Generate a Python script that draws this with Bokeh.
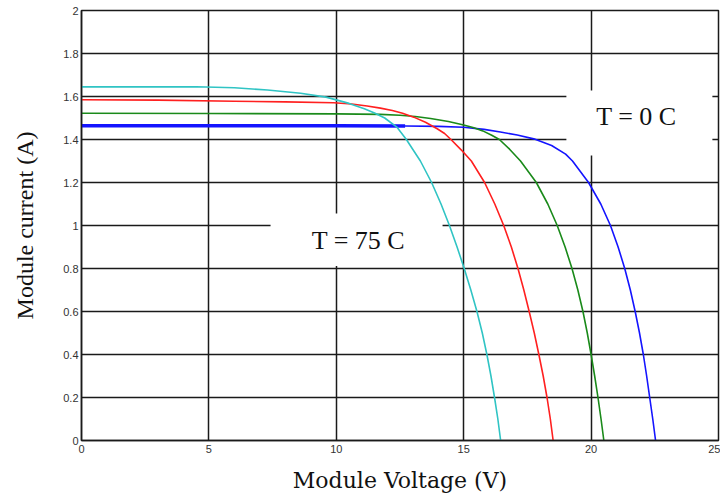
from bokeh.plotting import figure
from bokeh.models import Label, Range1d, FixedTicker
from bokeh.embed import file_html
from bokeh.resources import INLINE

# ---- data ----
x_ticks = [0, 5, 10, 15, 20, 25]
x_tick_labels = ["0", "5", "10", "15", "20", "25"]
y_ticks = [0, 0.2, 0.4, 0.6, 0.8, 1, 1.2, 1.4, 1.6, 1.8, 2]
y_tick_labels = ["0", "0.2", "0.4", "0.6", "0.8", "1", "1.2", "1.4", "1.6", "1.8", "2"]

# T = 75 C (cyan)
v_75 = [0, 2, 4.5, 6, 7.3, 8.6, 9.6, 10.5, 11.1, 11.5, 11.9, 12.39, 12.75, 13.3, 13.74, 14.11, 14.44,
        14.74, 15.02, 15.28, 15.52, 15.73, 15.91, 16.07, 16.21, 16.34, 16.45]
i_75 = [1.645, 1.645, 1.645, 1.641, 1.630, 1.615, 1.597, 1.568, 1.543, 1.523, 1.5, 1.456, 1.4, 1.3, 1.2, 1.1, 1.0,
        0.9, 0.8, 0.7, 0.6, 0.5, 0.4, 0.3, 0.2, 0.1, 0]
# T = 50 C (red)
v_50 = [0, 3, 6, 8, 9.9, 10.6, 11.21, 11.73, 12.2, 12.6, 13.04, 13.5, 13.96, 14.25, 14.5, 14.9, 15.3, 15.56,
        15.82, 16.22, 16.57, 16.87, 17.13, 17.36, 17.57, 17.77, 17.95, 18.12, 18.27, 18.4, 18.51]
i_50 = [1.585, 1.583, 1.578, 1.575, 1.571, 1.565, 1.556, 1.546, 1.535, 1.522, 1.504, 1.48, 1.45, 1.428, 1.40, 1.352, 1.30, 1.25,
        1.2, 1.1, 1.0, 0.9, 0.8, 0.7, 0.6, 0.5, 0.4, 0.3, 0.2, 0.1, 0]
# T = 25 C (green)
v_25 = [0, 5, 10, 11.73, 12.5, 13.1, 13.7, 14.4, 15.0, 15.4, 15.75, 16.1, 16.4, 16.8, 17.23, 17.85, 18.3, 18.67,
        18.98, 19.25, 19.48, 19.68, 19.85, 20.0, 20.14, 20.27, 20.39, 20.5]
i_25 = [1.522, 1.521, 1.519, 1.517, 1.513, 1.507, 1.498, 1.484, 1.467, 1.455, 1.44, 1.42, 1.4, 1.355, 1.3, 1.2, 1.1, 1.0,
        0.9, 0.8, 0.7, 0.6, 0.5, 0.4, 0.3, 0.2, 0.1, 0]
# T = 0 C (blue)
v_0 = [0, 5, 10, 12.7, 14, 15, 15.8, 16.44, 17.1, 17.75, 18.45, 19.0, 19.27, 19.9, 20.38, 20.76,
       21.06, 21.32, 21.54, 21.73, 21.9, 22.05, 22.18, 22.3, 22.42, 22.53]
i_0 = [1.464, 1.464, 1.464, 1.463, 1.461, 1.457, 1.447, 1.435, 1.421, 1.403, 1.372, 1.332, 1.3, 1.2, 1.1, 1.0,
       0.9, 0.8, 0.7, 0.6, 0.5, 0.4, 0.3, 0.2, 0.1, 0]

p = figure(width=720, height=497, output_backend="svg", toolbar_location=None,
           x_range=Range1d(0, 25), y_range=Range1d(0, 2),
           min_border_left=81, min_border_right=2, min_border_top=10, min_border_bottom=57)
p.background_fill_color = "white"
p.border_fill_color = "white"
p.outline_line_color = "#1a1a1a"
p.outline_line_width = 1.5

for ax in (p.xaxis[0], p.yaxis[0]):
    ax.axis_line_color = "#1a1a1a"
    ax.axis_line_width = 1.5
    ax.major_tick_out = 0
    ax.major_tick_in = 0
    ax.minor_tick_out = 0
    ax.minor_tick_in = 0
    ax.major_label_text_font = "Liberation Sans Narrow, Liberation Sans"
    ax.major_label_text_font_size = "11px"
    ax.major_label_text_color = "#333333"

p.xaxis.ticker = FixedTicker(ticks=x_ticks)
p.yaxis.ticker = FixedTicker(ticks=y_ticks)
p.xaxis.major_label_overrides = {t: s for t, s in zip(x_ticks, x_tick_labels)}
p.yaxis.major_label_overrides = {t: s for t, s in zip(y_ticks, y_tick_labels)}
p.xaxis.major_label_standoff = 4
p.yaxis.major_label_standoff = 3

p.xaxis.axis_label = "Module Voltage (V)"
p.yaxis.axis_label = "Module current (A)"
p.xaxis.axis_label_text_font = "DejaVu Serif"
p.xaxis.axis_label_text_font_size = "22px"
p.xaxis.axis_label_text_font_style = "normal"
p.xaxis.axis_label_standoff = 12
p.yaxis.axis_label_text_font = "Liberation Serif"
p.yaxis.axis_label_text_font_size = "24px"
p.yaxis.axis_label_text_font_style = "normal"
p.yaxis.axis_label_standoff = 22
p.xaxis.axis_label_text_color = "#111111"
p.yaxis.axis_label_text_color = "#111111"

p.xgrid.ticker = FixedTicker(ticks=x_ticks)
p.ygrid.ticker = FixedTicker(ticks=y_ticks)
for g in (p.xgrid[0], p.ygrid[0]):
    g.grid_line_color = "#1a1a1a"
    g.grid_line_width = 1.5
    g.grid_line_alpha = 1.0

# white boxes behind the annotations (they mask the grid)
p.quad(left=[19.03], right=[24.76], bottom=[1.326], top=[1.628], fill_color="white", line_color=None)
p.quad(left=[7.42], right=[14.17], bottom=[0.812], top=[1.056], fill_color="white", line_color=None)

p.line(v_0, i_0, line_color="#1414ff", line_width=1.6, line_join="round")
p.line(v_0[:4], i_0[:4], line_color="#1414ff", line_width=3.5)
p.line(v_25, i_25, line_color="#1a8a1a", line_width=1.6, line_join="round")
p.line(v_50, i_50, line_color="#ff2020", line_width=1.6, line_join="round")
p.line(v_75, i_75, line_color="#30c4c4", line_width=1.6, line_join="round")

p.add_layout(Label(x=21.78, y=1.507, text="T = 0 C", text_font="Liberation Serif",
                   text_font_size="26px", text_align="center", text_baseline="middle",
                   text_color="#111111"))
p.add_layout(Label(x=10.87, y=0.93, text="T = 75 C", text_font="Liberation Serif",
                   text_font_size="26px", text_align="center", text_baseline="middle",
                   text_color="#111111"))

open("out.html", "w").write(file_html(p, INLINE))
